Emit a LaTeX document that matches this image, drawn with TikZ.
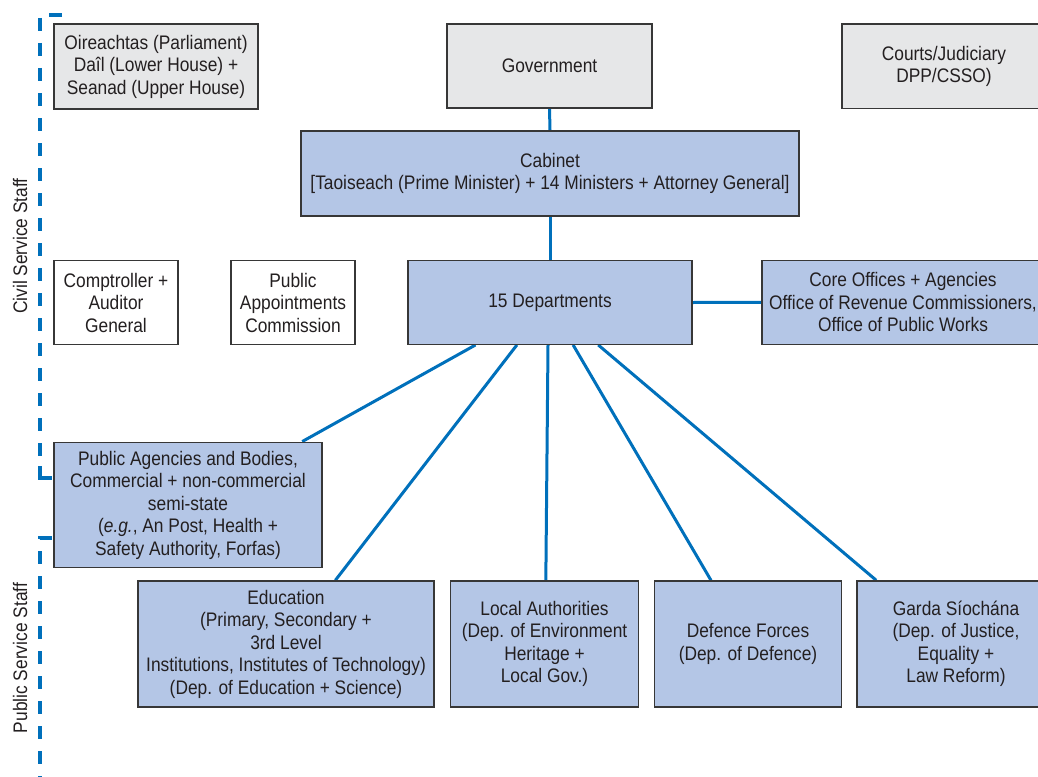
\documentclass[tikz,border=0pt]{standalone}
\usepackage{fontspec}
\setmainfont[FakeStretch=0.885]{Liberation Sans}
\usetikzlibrary{calc,backgrounds}
\definecolor{boxblue}{RGB}{180,198,230}
\definecolor{boxgray}{RGB}{230,231,232}
\definecolor{linkblue}{RGB}{0,112,187}
\definecolor{edgecol}{RGB}{55,55,55}
\definecolor{txt}{RGB}{35,31,32}
\begin{document}
\begin{tikzpicture}[x=1pt,y=-1pt,
  box/.style={draw=edgecol,line width=1.4pt,align=center,text=txt,inner sep=0pt,
    font=\fontsize{19.6}{22.5}\selectfont},
  graybox/.style={box,fill=boxgray},
  bluebox/.style={box,fill=boxblue},
  whitebox/.style={box,fill=white},
  link/.style={draw=linkblue,line width=3pt},
  bracket/.style={draw=linkblue,line width=3.2pt,dash pattern=on 13pt off 12pt},
  bracketend/.style={draw=linkblue,line width=3.2pt},
  side/.style={rotate=90,text=txt,inner sep=0pt,font=\fontsize{19.6}{22.5}\selectfont}]
\useasboundingbox (0,0) rectangle (1038,776);

% top row
\node[graybox,minimum width=204,minimum height=85] (oir) at (156,66.5)
  {Oireachtas (Parliament)\\Daîl (Lower House) +\\Seanad (Upper House)};
\node[graybox,minimum width=205,minimum height=84] (gov) at (549.5,66) {Government};
\node[graybox,minimum width=204,minimum height=84.5] (courts) at (944,66.3)
  {Courts/Judiciary\\DPP/CSSO)};

% cabinet
\node[bluebox,minimum width=498,minimum height=85] (cab) at (550,173.5)
  {Cabinet\\{}[Taoiseach (Prime Minister) + 14 Ministers + Attorney General]};

% third row
\node[whitebox,minimum width=124,minimum height=83.5] (comp) at (116,302.5)
  {Comptroller +\\Auditor\\General};
\node[whitebox,minimum width=124,minimum height=83.5] (pac) at (293,302.5)
  {Public\\Appointments\\Commission};
\node[bluebox,minimum width=284,minimum height=83.5] (dep) at (550,302.5) {15 Departments};
\node[bluebox,minimum width=282,minimum height=84] (core) at (903,302.3)
  {Core Offices + Agencies\\Office of Revenue Commissioners,\\Office of Public Works};

% agencies
\node[bluebox,minimum width=268,minimum height=125.5] (pab) at (188,505)
  {Public Agencies and Bodies,\\Commercial + non-commercial\\semi-state\\(\textit{e.g.}, An Post, Health +\\Safety Authority, Forfas)};

% bottom row
\node[bluebox,minimum width=296,minimum height=126] (edu) at (286,644)
  {Education\\(Primary, Secondary +\\3rd Level\\Institutions, Institutes of Technology)\\(Dep. of Education + Science)};
\node[bluebox,minimum width=187.5,minimum height=126] (loc) at (544.5,644)
  {Local Authorities\\(Dep. of Environment\\Heritage +\\Local Gov.)};
\node[bluebox,minimum width=187.5,minimum height=126] (def) at (748,644)
  {Defence Forces\\(Dep. of Defence)};
\node[bluebox,minimum width=198,minimum height=126] (garda) at (956,644)
  {Garda Síochána\\(Dep. of Justice,\\Equality +\\Law Reform)};

% side labels
\node[side] (civil) at (20,246) {Civil Service Staff};
\node[side] (public) at (20,658) {Public Service Staff};
\coordinate (c1) at (62,15);
\coordinate (c2) at (40,15);
\coordinate (c3) at (40,478);
\coordinate (c3a) at (40,466);
\coordinate (c4) at (52,478);
\coordinate (p1) at (52,538);
\coordinate (p2) at (40,538);
\coordinate (p3) at (40,790);

\begin{scope}[on background layer]
\draw[bracket] (c1) -- (c2) -- (c3a);
\draw[bracketend] (c3a) -- (c3) -- (c4);
\draw[bracket] (p1) -- (p2) -- (p3);
\draw[link] (gov.south) -- (cab.north);
\draw[link] (cab.south) -- (dep.north);
\draw[link] (dep.east) -- (core.west);
\draw[link] ($(dep.south west)!0.239!(dep.south east)$) -- ($(pab.north west)!0.924!(pab.north east)$);
\draw[link] ($(dep.south west)!0.384!(dep.south east)$) -- ($(edu.north west)!0.666!(edu.north east)$);
\draw[link] ($(dep.south west)!0.493!(dep.south east)$) -- ($(loc.north west)!0.507!(loc.north east)$);
\draw[link] ($(dep.south west)!0.581!(dep.south east)$) -- ($(def.north west)!0.304!(def.north east)$);
\draw[link] ($(dep.south west)!0.669!(dep.south east)$) -- ($(garda.north west)!0.10!(garda.north east)$);
\end{scope}
\end{tikzpicture}
\end{document}
